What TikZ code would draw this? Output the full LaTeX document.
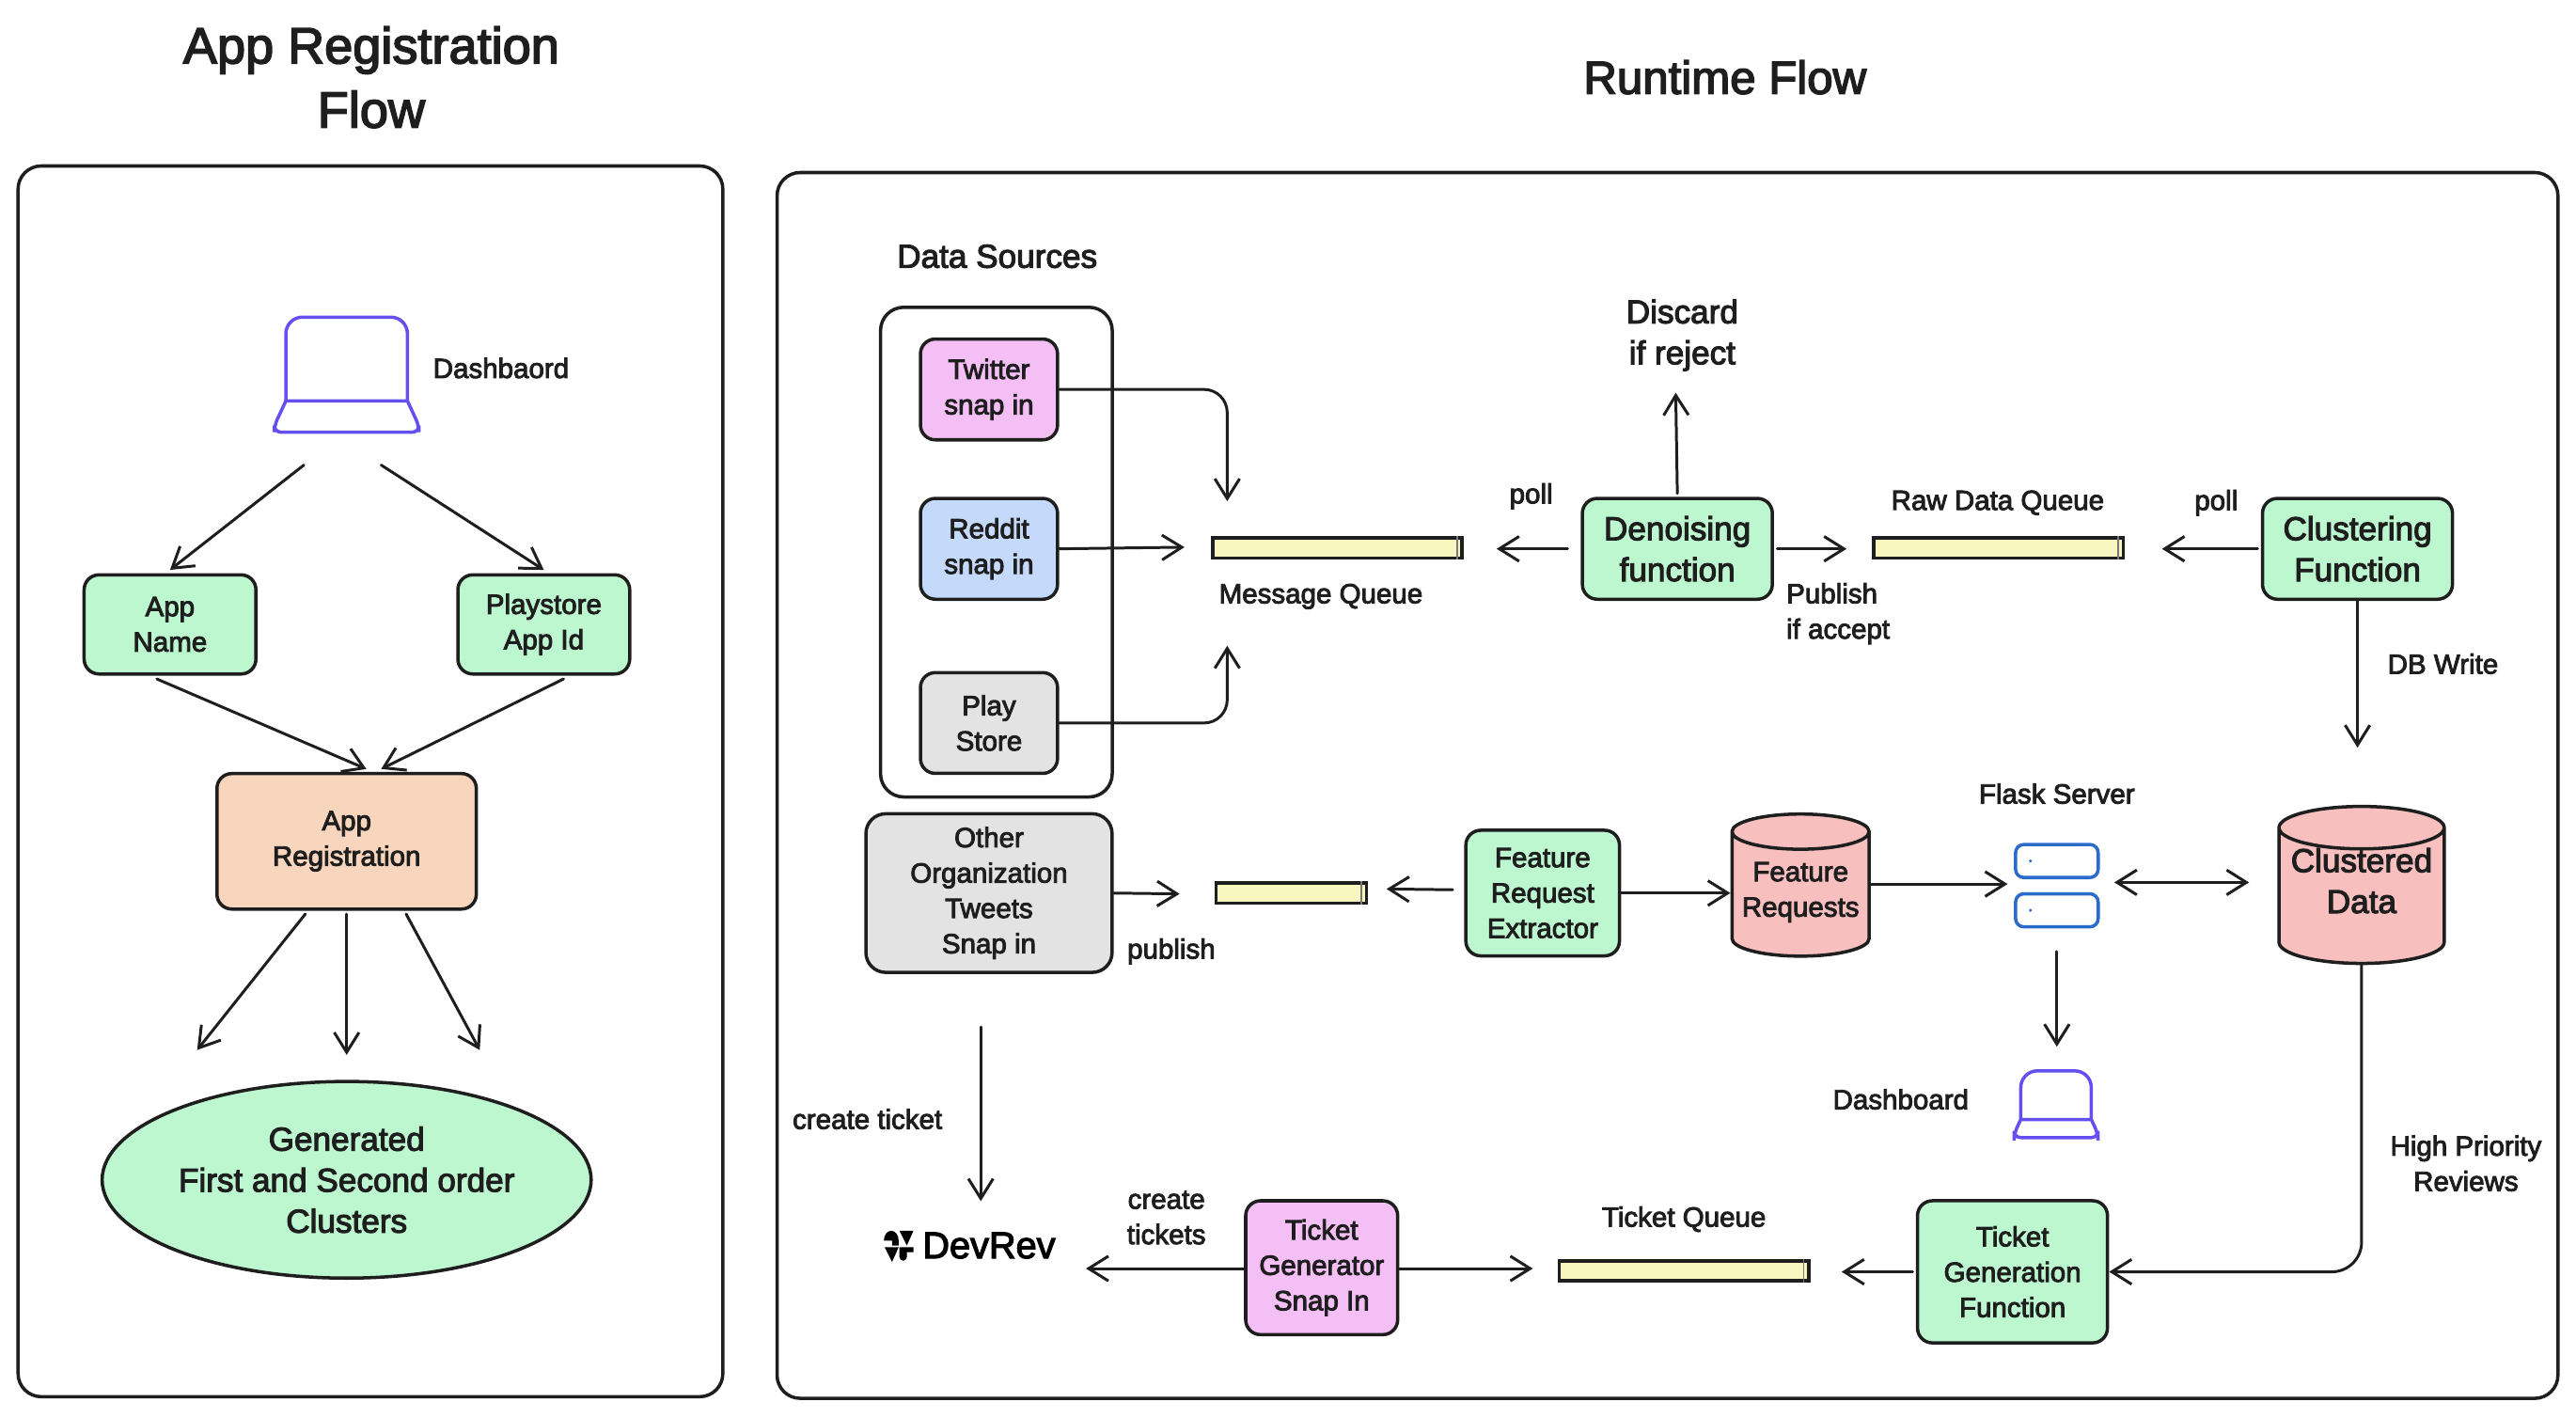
\documentclass[tikz,border=0pt]{standalone}
\usepackage{fontspec}
\setmainfont{Liberation Sans}[FakeBold=3]
\usetikzlibrary{arrows.meta,shapes.geometric}
\definecolor{inkc}{HTML}{1E1E1E}
\definecolor{greenc}{HTML}{BDF7CF}
\definecolor{pinkc}{HTML}{F3BFF5}
\definecolor{bluec}{HTML}{C5DAFB}
\definecolor{greyc}{HTML}{E3E3E3}
\definecolor{peachc}{HTML}{F8D6BD}
\definecolor{redc}{HTML}{F8BFBF}
\definecolor{yellowc}{HTML}{F6F6BE}
\definecolor{laptopc}{HTML}{6450F0}
\definecolor{serverc}{HTML}{2B6BCC}
\tikzset{
  smalltxt/.style={font=\fontsize{8.4}{10.7}\selectfont,text=inkc,align=center,inner sep=0pt},
  midtxt/.style={font=\fontsize{10}{12.4}\selectfont,text=inkc,align=center,inner sep=0pt},
  bigtxt/.style={font=\fontsize{15.4}{19.4}\selectfont,text=inkc,align=center,inner sep=0pt},
  frame/.style={draw=inkc,line width=1pt,rounded corners=7pt},
  box/.style={draw=inkc,line width=1pt,rounded corners=4.5pt,inner sep=0pt},
  queue/.style={draw=inkc,fill=yellowc,line width=1pt,rectangle,minimum width=75.5pt,minimum height=6pt,inner sep=0pt},
  db/.style={draw=inkc,fill=redc,line width=1pt,cylinder,shape border rotate=90,shape aspect=.3,inner sep=0pt},
  srv/.style={draw=serverc,line width=1pt,rounded corners=2.5pt,minimum width=25pt,minimum height=10pt,inner sep=0pt},
  conn/.style={draw=inkc,line width=.85pt,line cap=round,>={Straight Barb[length=6pt,width=7.5pt]},->},
  laptop/.pic={
    \draw[laptopc,line width=1pt,rounded corners=5pt] (-37,16) -- (-37,-35) -- (37,-35) -- (37,16);
    \draw[laptopc,line width=1pt] (-37,16) [rounded corners=2pt] -- (-44,31) -- (-44,35) -- (44,35) -- (44,31) [sharp corners] -- (37,16) -- cycle;
  },
}
\begin{document}
\begin{tikzpicture}[x=0.17474mm,y=-0.17474mm]
\useasboundingbox (0,0) rectangle (1568,862.4);

% titles and frames
\node[bigtxt] (regtitle) at (226,47) {App Registration\\Flow};
\node[bigtxt,font=\fontsize{14}{19.4}\selectfont] (runtitle) at (1050,47) {Runtime Flow};
\draw[frame] (11,101) rectangle (440,850);
\draw[frame] (473,105) rectangle (1557,851);

% app registration flow
\pic at (211,228) {laptop};
\node[smalltxt] (dashlabel) at (305,224) {Dashbaord};
\node[box,smalltxt,fill=greenc,minimum width=52pt,minimum height=30pt] (appname) at (103.5,380) {App\\Name};
\node[box,smalltxt,fill=greenc,minimum width=52pt,minimum height=30pt] (playid) at (331,380) {Playstore\\App Id};
\node[box,smalltxt,fill=peachc,minimum width=78.5pt,minimum height=41pt] (appreg) at (211,512) {App\\Registration};
\node[ellipse,midtxt,draw=inkc,line width=1pt,fill=greenc,minimum width=148pt,minimum height=59.5pt] (clusters) at (211,718) {Generated\\First and Second order\\Clusters};

\coordinate (dashl) at (185,283);
\coordinate (dashr) at (232,283);
\coordinate (regl) at (223,468);
\coordinate (regr) at (232,468);
\coordinate (clusterl) at (120,639);
\coordinate (clusterm) at (211,642);
\coordinate (clusterr) at (292,639);
\draw[conn] (dashl) -- ([yshift=1pt]appname.north);
\draw[conn] (dashr) -- ([yshift=1pt]playid.north);
\draw[conn] ([xshift=-4pt,yshift=-1pt]appname.south) -- (regl);
\draw[conn] ([xshift=6pt,yshift=-1pt]playid.south) -- (regr);
\draw[conn] ([xshift=-12.5pt,yshift=-1pt]appreg.south) -- (clusterl);
\draw[conn] ([yshift=-1pt]appreg.south) -- (clusterm);
\draw[conn] ([xshift=18pt,yshift=-1pt]appreg.south) -- (clusterr);

% data sources
\node[midtxt] (srclabel) at (607,156) {Data Sources};
\draw[frame] (536,187) rectangle (677,485);
\node[box,smalltxt,fill=pinkc,minimum width=41.5pt,minimum height=30.5pt] (twitter) at (602,237) {Twitter\\snap in};
\node[box,smalltxt,fill=bluec,minimum width=41.5pt,minimum height=30.5pt] (reddit) at (602,334) {Reddit\\snap in};
\node[box,smalltxt,fill=greyc,minimum width=41.5pt,minimum height=30.5pt] (play) at (602,440) {Play\\Store};
\node[box,smalltxt,fill=greyc,rounded corners=6pt,minimum width=74.5pt,minimum height=48pt] (other) at (602,543.5) {Other\\Organization\\Tweets\\Snap in};

% upper row
\node[queue] (mqueue) at (814,333.5) {};
\node[smalltxt] (mqlabel) at (804,363) {Message Queue};
\node[box,midtxt,fill=greenc,minimum width=57.5pt,minimum height=30.5pt] (denoise) at (1021,334) {Denoising\\function};
\node[midtxt] (discard) at (1024,204) {Discard\\if reject};
\node[queue] (rawq) at (1216.5,333.5) {};
\node[smalltxt] (rawlabel) at (1216,306) {Raw Data Queue};
\node[box,midtxt,fill=greenc,minimum width=57.5pt,minimum height=30.5pt] (cluster) at (1435,334) {Clustering\\Function};
\node[smalltxt] (polla) at (932,302) {poll};
\node[smalltxt] (pollb) at (1349,306) {poll};
\node[smalltxt,align=left,anchor=west] (accept) at (1087,373.5) {Publish\\if accept};
\node[smalltxt] (dbwrite) at (1487,404) {DB Write};

\coordinate (mqtop) at (747,305);
\coordinate (mqleft) at (721,333);
\coordinate (mqbot) at (747,393);
\coordinate (mqright) at (911,334);
\coordinate (rawleft) at (1124,334);
\coordinate (rawright) at (1316,334);
\coordinate (discarddn) at (1020,239);
\coordinate (dbtop) at (1435,455);
\draw[conn,rounded corners=7pt] (twitter.east) -| (mqtop);
\draw[conn] (reddit.east) -- (mqleft);
\draw[conn,rounded corners=7pt] (play.east) -| (mqbot);
\draw[conn] ([xshift=-4pt]denoise.west) -- (mqright);
\draw[conn] ([yshift=1pt]denoise.north) -- (discarddn);
\draw[conn] ([xshift=1pt]denoise.east) -- (rawleft);
\draw[conn] ([xshift=-1pt]cluster.west) -- (rawright);
\draw[conn] (cluster.south) -- (dbtop);

% middle row
\node[queue,minimum width=45.5pt] (featq) at (786,543.5) {};
\node[smalltxt] (publish) at (713,579) {publish};
\node[box,smalltxt,fill=greenc,minimum width=46.5pt,minimum height=38pt] (extractor) at (939,543.5) {Feature\\Request\\Extractor};
\node[db,smalltxt,minimum width=41.5pt,minimum height=43pt] (freq) at (1096,544.5) {\phantom{Feature}\\\phantom{Requests}};
\node[smalltxt] (freqtxt) at (1096,543) {Feature\\Requests};
\node[smalltxt] (flask) at (1252,483) {Flask Server};
\node[srv] (servera) at (1252,524) {};
\node[srv] (serverb) at (1252,554) {};
\foreach \s in {servera,serverb}
  \fill[serverc] ([xshift=-8pt]\s.center) circle (.5pt);
\node[db,midtxt,minimum width=50pt,minimum height=47.5pt] (clustered) at (1437.5,545.5) {\phantom{Clustered}\\\phantom{Data}};
\node[midtxt] (clusteredtxt) at (1437.5,536) {Clustered\\Data};

\coordinate (featl) at (718,544);
\coordinate (featr) at (844,541);
\coordinate (srvin) at (1222,538);
\coordinate (srvout) at (1287,537);
\coordinate (dbin) at (1369,537);
\coordinate (srvdown) at (1252,579);
\coordinate (lapup) at (1252,637);
\draw[conn] (other.east) -- (featl);
\draw[conn] ([xshift=-3.5pt,yshift=1pt]extractor.west) -- (featr);
\draw[conn] (extractor.east) -- (freq.west |- extractor.east);
\draw[conn] (freq.east |- srvin) -- (srvin);
\draw[conn,<->] (srvout) -- (dbin);
\draw[conn] (srvdown) -- (lapup);

% lower row
\pic[scale=.58] at (1251.5,672) {laptop};
\node[smalltxt] (dashb) at (1157,669) {Dashboard};
\node[smalltxt] (hightxt) at (1501,708) {High Priority\\Reviews};
\node[smalltxt] (createa) at (528,681) {create ticket};
\node[smalltxt] (createb) at (710,741) {create\\tickets};
\node[smalltxt] (tqlabel) at (1025,742) {Ticket Queue};
\node[box,smalltxt,fill=greenc,minimum width=57.5pt,minimum height=43pt] (ticketfn) at (1225,774) {Ticket\\Generation\\Function};
\node[queue] (ticketq) at (1025,773.5) {};
\node[box,smalltxt,fill=pinkc,minimum width=46pt,minimum height=40.5pt] (ticketsnap) at (804.5,771.5) {Ticket\\Generator\\Snap In};
\node[inner sep=0pt,text=black,font=\fontsize{11.3}{12}\selectfont] (devrev) at (602,758) {DevRev};
% devrev mark
\fill[black] (538,755) arc (180:360:4.5 and 6) -- (547,758) -- (543,758) -- (543,755) -- cycle;
\fill[black] (547.5,749) -- (556,749) -- (552,758) -- cycle;
\fill[black] (538.5,759) -- (547,759) -- (543,768) -- cycle;
\fill[black] (547.5,765) -- (547.5,759) -- (556,759) -- (556,762) -- (552,762) -- (552,765) arc (0:180:2.25) -- cycle;

\foreach \q in {mqueue,rawq,featq,ticketq}
  \draw[inkc!60,line width=.4pt] ([xshift=-2pt]\q.north east) -- ([xshift=-2pt]\q.south east);

\coordinate (devtop) at (597,731);
\coordinate (otherdn) at (597,625);
\coordinate (devright) at (661,772);
\coordinate (tqleft) at (933,772);
\coordinate (tqright) at (1121,774);
\draw[conn] (otherdn) -- (devtop);
\draw[conn] (ticketsnap.west |- devright) -- (devright);
\draw[conn] (ticketsnap.east |- tqleft) -- (tqleft);
\draw[conn] ([xshift=-1pt]ticketfn.west) -- (tqright);
\draw[conn,rounded corners=9pt] (clustered.south) |- (ticketfn.east);
\end{tikzpicture}
\end{document}
